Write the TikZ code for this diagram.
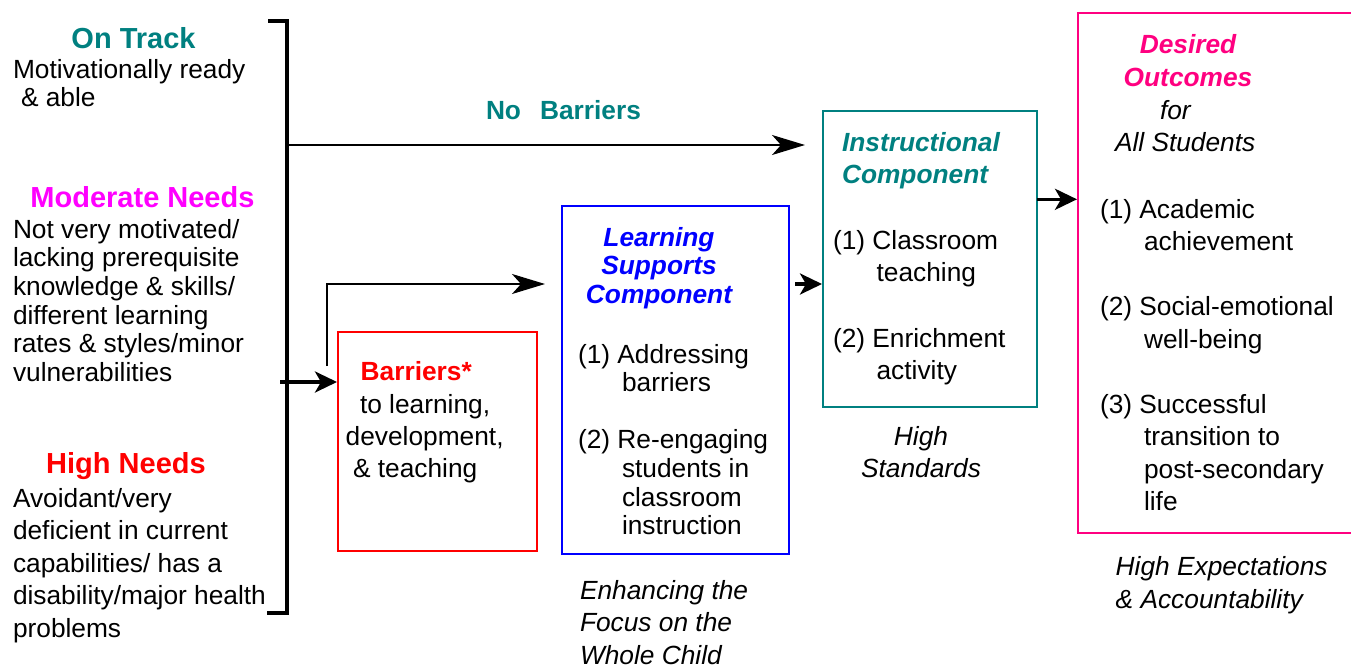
\documentclass[tikz,border=0pt]{standalone}
\usepackage{fontspec}
\setmainfont{Liberation Sans}
\usetikzlibrary{arrows.meta}
\definecolor{cTeal}{HTML}{008080}
\definecolor{cMag}{HTML}{FF00FF}
\definecolor{cRed}{HTML}{FF0000}
\definecolor{cBlue}{HTML}{0000FF}
\definecolor{cPink}{HTML}{FF0080}
\begin{document}
\begin{tikzpicture}[x=1pt,y=-1pt,
  txt/.style={inner sep=0pt, outer sep=0pt, anchor=north west, align=left},
  ctr/.style={inner sep=0pt, outer sep=0pt, anchor=north, align=center},
  boxn/.style={inner sep=0pt, outer sep=0pt, anchor=north west, line width=2pt},
  bigarrow/.style={line width=2.2pt, -{Stealth[length=33pt,width=20pt,inset=9pt]}},
  smallarrow/.style={line width=3.5pt, -{Stealth[length=22pt,width=21pt,inset=6pt]}},
  bracketline/.style={line width=4.5pt},
  headL/.style={font=\fontsize{29}{34}\selectfont\bfseries},
  fA/.style={font=\fontsize{26.3}{28.7}\selectfont},
  fB/.style={font=\fontsize{26.3}{32.5}\selectfont},
  fBI/.style={font=\fontsize{26.3}{32.5}\selectfont\bfseries\itshape},
  fI/.style={font=\fontsize{26.3}{32.5}\selectfont\itshape},
]
\useasboundingbox (0,0) rectangle (1351,666);

% left bracket
\coordinate (brTop) at (287,21);
\coordinate (brBot) at (287,613);
\draw[bracketline] (268,21) -- (brTop) -- (brBot) -- (267,613);

% left column texts
\node[ctr, headL, text=cTeal] (onTrack) at (133.5,27) {On Track};
\node[txt, fA] (motiv) at (13,59) {Motivationally ready\\\hspace*{8pt}\& able};
\node[ctr, headL, text=cMag] (modNeeds) at (142.5,186) {Moderate Needs};
\node[txt, fA] (modText) at (13,219) {Not very motivated/\\lacking prerequisite\\knowledge \& skills/\\different learning\\rates \& styles/minor\\vulnerabilities};
\node[ctr, headL, text=cRed] (highNeeds) at (126,452.5) {High Needs};
\node[txt, fB] (highText) at (13,488) {Avoidant/very\\deficient in current\\capabilities/ has a\\disability/major health\\problems};

% boxes
\node[boxn, draw=cRed, minimum width=199pt, minimum height=219pt] (barr) at (338,332) {};
\node[boxn, draw=cBlue, minimum width=227pt, minimum height=348pt] (learn) at (562,206) {};
\node[boxn, draw=cTeal, minimum width=214pt, minimum height=296pt] (instr) at (823,111) {};
\node[boxn, minimum width=273pt, minimum height=520pt] (outc) at (1078,13) {};
\draw[line width=2pt, cPink] (outc.north east) -- (outc.north west) -- (outc.south west) -- (outc.south east);

% No barriers
\node[txt, font=\fontsize{26.3}{32}\selectfont\bfseries, text=cTeal] (noBarr) at (486,100) {No\hspace{19pt}Barriers};

% barriers box text
\node[txt, font=\fontsize{26.3}{32}\selectfont\bfseries, text=cRed] (barrHead) at (360.7,361) {Barriers*};
\node[txt, font=\fontsize{26.3}{32}\selectfont] (barrText) at (345.7,394) {\hspace*{14.3pt}to learning,\\development,\\\hspace*{7.3pt}\& teaching};

% learning supports text
\node[ctr, font=\fontsize{26.3}{28.7}\selectfont\bfseries\itshape, text=cBlue] (learnHead) at (659,227) {Learning\\Supports\\Component};
\node[txt, font=\fontsize{26.3}{28.6}\selectfont] (learnItems) at (578,344) {(1) Addressing\\\hspace*{44pt}barriers\\[28.6pt](2) Re-engaging\\\hspace*{44pt}students in\\\hspace*{44pt}classroom\\\hspace*{44pt}instruction};
\node[txt, fI] (enhance) at (580,580) {Enhancing the\\Focus on the\\Whole Child};

% instructional text
\node[txt, font=\fontsize{26.3}{32}\selectfont\bfseries\itshape, text=cTeal] (instrHead) at (842,132) {Instructional\\Component};
\node[txt, font=\fontsize{26.3}{32.7}\selectfont] (instrItems) at (833,230) {(1) Classroom\\\hspace*{43.6pt}teaching\\[32.7pt](2) Enrichment\\\hspace*{43.6pt}activity};
\node[ctr, fI] (highStd) at (921,426) {High\\Standards};

% outcomes text
\node[ctr, font=\fontsize{26.3}{33}\selectfont\bfseries\itshape, text=cPink] (desHead) at (1188,34.5) {Desired\\Outcomes};
\node[txt, font=\fontsize{26.3}{32}\selectfont\itshape] (forAll) at (1115,100.5) {\hspace*{45pt}for\\All Students};
\node[txt, fB] (outItems) at (1100,199) {(1) Academic\\\hspace*{44pt}achievement\\[32.5pt](2) Social-emotional\\\hspace*{44pt}well-being\\[32.5pt](3) Successful\\\hspace*{44pt}transition to\\\hspace*{44pt}post-secondary\\\hspace*{44pt}life};
\node[txt, font=\fontsize{26.3}{33}\selectfont\itshape] (highExp) at (1115.7,556.7) {High Expectations\\\& Accountability};

% connectors
\coordinate (nbStart) at (287,145);
\draw[bigarrow, shorten >=18pt] (nbStart) -- (nbStart -| instr.west);

\coordinate (lsStart) at (327,366);
\coordinate (lsTurn) at (327,284);
\draw[bigarrow, shorten >=17pt] (lsStart) -- (lsTurn) -- (lsTurn -| learn.west);

\coordinate (bStart) at (280,382);
\draw[smallarrow, shorten >=1pt] (bStart) -- (bStart -| barr.west);

\draw[smallarrow, shorten <=6pt, shorten >=1pt] (lsTurn -| learn.east) -- (lsTurn -| instr.west);

\coordinate (ioY) at (1037,199.3);
\draw[smallarrow, shorten >=1pt] (ioY -| instr.east) -- (ioY -| outc.west);
\end{tikzpicture}
\end{document}
